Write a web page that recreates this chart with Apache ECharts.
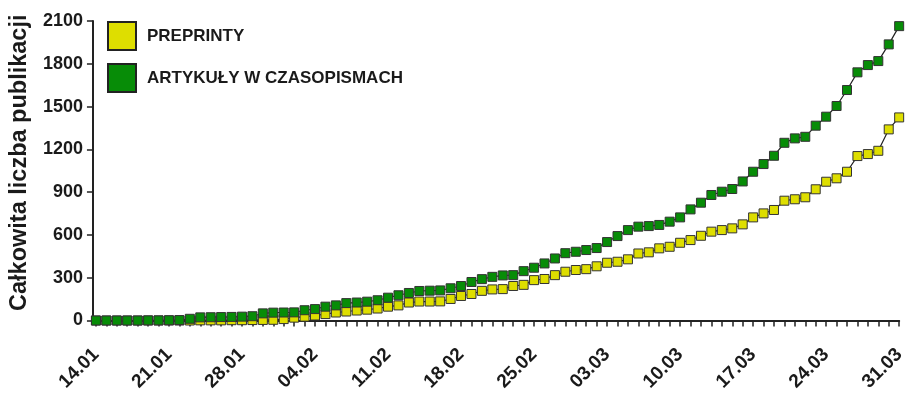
<!DOCTYPE html>
<html><head><meta charset="utf-8">
<script src="https://cdn.jsdelivr.net/npm/echarts@6/dist/echarts.min.js"></script>
<style>html,body{margin:0;padding:0;background:#fff}#c{width:908px;height:396px}</style>
</head><body><div id="c"></div>
<script>
var dates = ["14.01","15.01","16.01","17.01","18.01","19.01","20.01","21.01","22.01","23.01","24.01","25.01","26.01","27.01","28.01","29.01","30.01","31.01",
"01.02","02.02","03.02","04.02","05.02","06.02","07.02","08.02","09.02","10.02","11.02","12.02","13.02","14.02","15.02","16.02","17.02","18.02","19.02","20.02","21.02","22.02","23.02","24.02","25.02","26.02","27.02","28.02","29.02",
"01.03","02.03","03.03","04.03","05.03","06.03","07.03","08.03","09.03","10.03","11.03","12.03","13.03","14.03","15.03","16.03","17.03","18.03","19.03","20.03","21.03","22.03","23.03","24.03","25.03","26.03","27.03","28.03","29.03","30.03","31.03"];
var preprinty = [0,0,0,0,0,0,0,0,0,0,1,1,1,2,2,3,4,5,10,20,27,35,45,56,63,70,76,84,97,106,126,133,133,134,151,172,186,208,218,220,242,250,283,291,318,342,354,360,380,405,412,429,470,478,506,517,545,564,594,623,634,646,674,723,751,775,840,850,864,920,973,997,1043,1153,1167,1190,1340,1424];
var artykuly = [0,0,0,0,0,1,1,2,3,12,22,23,24,25,27,30,50,55,56,57,72,80,97,106,122,126,132,142,160,177,193,207,209,211,226,242,270,290,306,316,318,346,370,400,435,472,482,494,508,550,592,634,658,662,670,693,723,779,826,880,903,922,975,1043,1097,1155,1246,1277,1288,1366,1429,1504,1616,1740,1791,1819,1936,2064];
var yTicks = [0,300,600,900,1200,1500,1800,2100];
var seriesNames = ["PREPRINTY","ARTYKUŁY W CZASOPISMACH"];

var F = '"Liberation Sans", Arial, sans-serif';
var chart = echarts.init(document.getElementById('c'), null, {renderer:'canvas'});
chart.setOption({
  animation:false,
  backgroundColor:'#fff',
  grid:{left:93,right:1,top:21,bottom:75.5},
  legend:{
    orient:'vertical',left:102,top:16,itemWidth:28,itemHeight:28,itemGap:12,
    data:[{name:seriesNames[0],icon:'rect'},{name:seriesNames[1],icon:'rect'}],
    itemStyle:{borderColor:'#222',borderWidth:2},
    textStyle:{fontFamily:F,fontWeight:'bold',fontSize:17,color:'#1a1a1a',padding:[0,0,0,6]}
  },
  xAxis:{
    type:'category',data:dates,boundaryGap:false,
    axisLine:{lineStyle:{color:'#222',width:2}},
    axisTick:{interval:0,length:6,lineStyle:{color:'#222',width:1.5}},
    axisLabel:{interval:6,rotate:45,margin:31,fontFamily:F,fontWeight:'bold',fontSize:19,color:'#1a1a1a'},
    splitLine:{show:false}
  },
  yAxis:{
    type:'value',min:yTicks[0],max:yTicks[yTicks.length-1],interval:300,offset:3,
    name:'Całkowita liczba publikacji',nameLocation:'middle',nameGap:56,
    nameTextStyle:{fontFamily:F,fontWeight:'bold',fontSize:23.5,color:'#1a1a1a',padding:[0,0,0,16]},
    axisLine:{show:true,lineStyle:{color:'#222',width:2}},
    axisTick:{show:true,length:6,lineStyle:{color:'#222',width:1.5}},
    axisLabel:{margin:10,fontFamily:F,fontWeight:'bold',fontSize:18,color:'#1a1a1a',
      formatter:function(v){return String(v);}},
    splitLine:{show:false}
  },
  series:[
    {name:seriesNames[0],type:'line',data:preprinty,symbol:'rect',symbolSize:9,showAllSymbol:true,
     lineStyle:{color:'#222',width:1.2},itemStyle:{color:'#dede00',borderColor:'#333',borderWidth:1}},
    {name:seriesNames[1],type:'line',data:artykuly,symbol:'rect',symbolSize:9,showAllSymbol:true,
     lineStyle:{color:'#222',width:1.2},itemStyle:{color:'#078c07',borderColor:'#333',borderWidth:1}}
  ]
});
</script></body></html>
